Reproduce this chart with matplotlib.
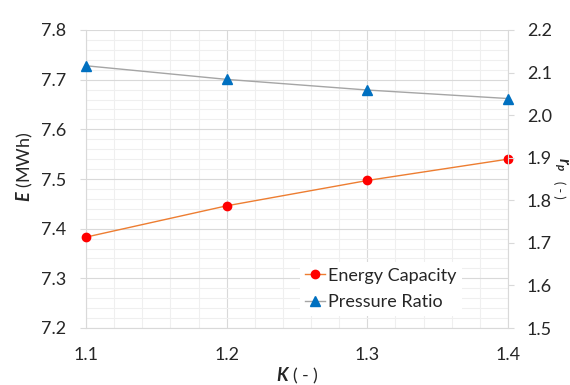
import matplotlib
matplotlib.use("Agg")
import matplotlib.pyplot as plt
from matplotlib.ticker import MultipleLocator

plt.rcParams['font.family'] = ['Lato', 'DejaVu Sans']
plt.rcParams['mathtext.fontset'] = 'custom'
plt.rcParams['mathtext.rm'] = 'Lato'
plt.rcParams['mathtext.it'] = 'Lato:italic'
plt.rcParams['mathtext.bf'] = 'Lato:bold'
plt.rcParams['mathtext.bfit'] = 'Lato:italic:bold'

K = [1.1, 1.2, 1.3, 1.4]
energy_capacity = [7.383, 7.446, 7.497, 7.540]
pressure_ratio = [2.116, 2.084, 2.059, 2.039]
left_ticks = [7.2, 7.3, 7.4, 7.5, 7.6, 7.7, 7.8]
right_ticks = [1.5, 1.6, 1.7, 1.8, 1.9, 2.0, 2.1, 2.2]
x_ticks = [1.1, 1.2, 1.3, 1.4]

W, H = 570, 385
fig = plt.figure(figsize=(5.7, 3.85), dpi=100)
ax = fig.add_axes([86/W, 1-328/H, (508-86)/W, (328-30)/H])
ax2 = ax.twinx()

grid_major = '#d9d9d9'
grid_minor = '#efefef'
text_c = '#262626'
fs = 13

ax.set_xlim(1.1, 1.4)
ax.set_ylim(7.2, 7.8)
ax2.set_ylim(1.5, 2.2)
ax.set_xticks(x_ticks)
ax.set_xticklabels([f"{v:.1f}" for v in x_ticks])
ax.set_yticks(left_ticks)
ax.set_yticklabels([f"{v:.1f}" for v in left_ticks])
ax2.set_yticks(right_ticks)
ax2.set_yticklabels([f"{v:.1f}" for v in right_ticks])
ax.xaxis.set_minor_locator(MultipleLocator(0.02))
ax.yaxis.set_minor_locator(MultipleLocator(0.02))
ax.grid(which='minor', color=grid_minor, linewidth=0.8)
ax.grid(which='major', color=grid_major, linewidth=0.8)
ax.set_axisbelow(True)

for a in (ax, ax2):
    for s in a.spines.values():
        s.set_visible(False)
    a.tick_params(which='minor', length=0)
    a.tick_params(which='major', labelsize=fs, labelcolor=text_c)
ax.spines['left'].set_visible(True)
ax.spines['left'].set_color(grid_major)
ax.spines['bottom'].set_visible(True)
ax.spines['bottom'].set_color(grid_major)
ax2.spines['right'].set_visible(True)
ax2.spines['right'].set_color(grid_major)
ax.tick_params(axis='y', which='major', length=4.5, color=grid_major, pad=10)
ax.tick_params(axis='x', which='major', length=0, pad=14)
ax2.tick_params(axis='y', which='major', length=4.5, color=grid_major, pad=9)

l1, = ax.plot(K, energy_capacity, color='#ED7D31', linewidth=1.0, marker='o',
              markersize=6, markerfacecolor='#FF0000', markeredgecolor='#FF0000',
              label='Energy Capacity', zorder=3, clip_on=False)
l2, = ax2.plot(K, pressure_ratio, color='#A5A5A5', linewidth=1.0, marker='^',
               markersize=6.5, markerfacecolor='#0070C0', markeredgecolor='#0070C0',
               label='Pressure Ratio', zorder=3, clip_on=False)

leg = ax2.legend([l1, l2], ['Energy Capacity', 'Pressure Ratio'],
                 loc='center left', bbox_to_anchor=((300-86)/422, 1-(289-30)/298),
                 frameon=True, fontsize=fs, handlelength=1.1, handletextpad=0.15,
                 labelspacing=0.6, borderpad=0.3, borderaxespad=0)
leg.get_frame().set_edgecolor('none')
leg.get_frame().set_facecolor('white')
leg.get_frame().set_alpha(1)
for t in leg.get_texts():
    t.set_color(text_c)

fig.text(25/W, 1-167/H, r'$\mathbfit{E}$ (MWh)', rotation=90, ha='center', va='center',
         fontsize=fs, color=text_c)
fig.text(297/W, 1-376/H, r'$\mathbfit{K}$ ( - )', ha='center', va='center',
         fontsize=fs, color=text_c)
fig.text(561/W, 1-164/H, r'$\mathbfit{r_p}$', rotation=-90, ha='center', va='center',
         fontsize=12, color=text_c)
fig.text(559/W, 1-190/H, '( - )', rotation=-90, ha='center', va='center',
         fontsize=9, color=text_c)

fig.savefig('out.png', dpi=100, facecolor='white')
